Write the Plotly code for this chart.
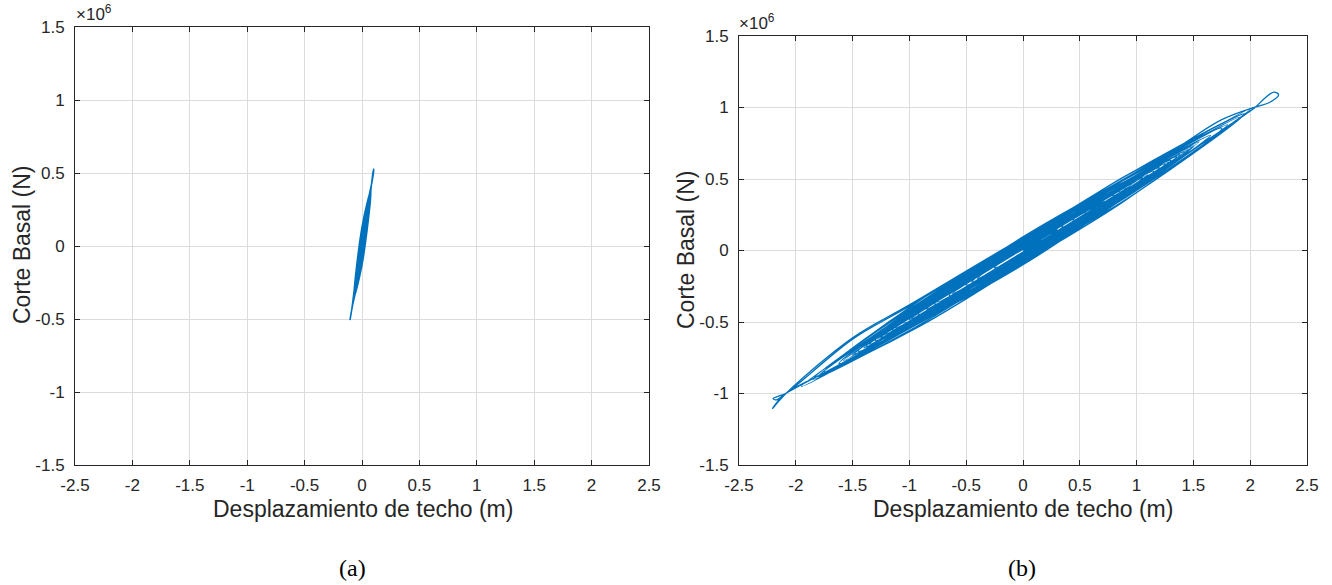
import plotly.graph_objects as go

# ---- data: roof displacement (m) vs base shear (x10^6 N) ----
# panel (a): essentially elastic response, one cycle per row
disp_a = [0.0,
          0.030, 0.0, -0.040, 0.0,
          0.055, 0.0, -0.060, 0.0,
          0.070, 0.0, -0.075, 0.0,
          0.080, 0.0, -0.088, -0.105, -0.090, 0.0,
          0.085, 0.098, 0.103, 0.096, 0.084, 0.0,
          -0.072, 0.0, 0.078, 0.0,
          -0.074, 0.0, 0.076, 0.0,
          -0.070, 0.0, 0.072, 0.0,
          -0.068, 0.0, 0.074, 0.0,
          -0.065, 0.0, 0.068, 0.0,
          -0.066, 0.0, 0.070, 0.0,
          -0.062, 0.0, 0.065, 0.0,
          -0.060, 0.0, 0.062, 0.0,
          -0.058, 0.0, 0.060, 0.0,
          -0.055, 0.0, 0.058, 0.0,
          -0.050, 0.0, 0.052, 0.0,
          -0.045, 0.0, 0.045, 0.0,
          -0.035, 0.0, 0.030, 0.0,
          -0.020, 0.0]
shear_a = [0.0,
           0.150, -0.060, -0.200, 0.070,
           0.275, -0.080, -0.300, 0.090,
           0.350, -0.090, -0.370, 0.100,
           0.400, -0.100, -0.430, -0.507, -0.440, 0.110,
           0.430, 0.490, 0.527, 0.505, 0.430, -0.090,
           -0.360, 0.130, 0.385, -0.130,
           -0.365, 0.050, 0.375, -0.030,
           -0.350, 0.120, 0.360, -0.110,
           -0.335, 0.020, 0.370, -0.060,
           -0.320, 0.100, 0.340, -0.120,
           -0.325, 0.070, 0.350, -0.015,
           -0.305, 0.125, 0.325, -0.090,
           -0.295, 0.040, 0.310, -0.100,
           -0.290, 0.090, 0.300, -0.045,
           -0.270, 0.110, 0.290, -0.070,
           -0.245, 0.030, 0.260, -0.080,
           -0.220, 0.080, 0.225, -0.060,
           -0.170, 0.060, 0.150, -0.040,
           -0.100, 0.030]

# panel (b): nonlinear response, one cycle per row
disp_b = [0.0,
          0.30, 0.0, -0.45, 0.0,
          0.62, 0.0, -0.85, 0.0,
          1.05, 0.0, -1.25, 0.0,
          1.48, 0.0, -1.62, 0.0,
          1.80, 0.0, -1.95, 0.0,
          1.30, 1.75, 2.05, 2.17, 2.25, 2.21, 2.12, 2.05, 1.75, 1.20, 0.0,
          -1.50, -2.09, -2.205, -2.08, -1.50, -1.00, 0.0,
          2.00, 0.0, -1.55, -2.09, -2.17, -2.20, -2.15, -2.09, -1.50, -1.00, 0.0,
          1.00, 1.95, 1.00, 0.0, -1.00, -1.85, -1.00, 0.0,
          1.00, 1.90, 1.00, 0.0, -1.00, -1.80, -1.00, 0.0,
          0.90, 1.75, 0.90, 0.0, -0.90, -1.75, -0.90, 0.0,
          0.85, 1.65, 0.85, 0.0, -0.85, -1.62, -0.85, 0.0,
          1.55, 0.0, -1.58, 0.0,
          1.65, 0.0, -1.50, 0.0,
          1.45, 0.0, -1.48, 0.0,
          1.50, 0.0, -1.40, 0.0,
          1.38, 0.0, -1.45, 0.0,
          1.42, 0.0, -1.35, 0.0,
          1.30, 0.0, -1.38, 0.0,
          1.35, 0.0, -1.30, 0.0,
          1.25, 0.0, -1.28, 0.0,
          1.28, 0.0, -1.20, 0.0,
          1.20, 0.0, -1.22, 0.0,
          1.15, 0.0, -1.12, 0.0,
          1.10, 0.0, -1.15, 0.0,
          1.05, 0.0, -1.05, 0.0,
          1.00, 0.0, -1.00, 0.0,
          0.95, 0.0, -0.98, 0.0,
          0.90, 0.0, -0.92, 0.0,
          0.85, 0.0, -0.85, 0.0,
          0.80, 0.0, -0.78, 0.0,
          0.72, 0.0, -0.75, 0.0,
          0.68, 0.0, -0.65, 0.0,
          0.60, 0.0, -0.62, 0.0,
          0.55, 0.0, -0.50, 0.0,
          0.45, 0.0, -0.40, 0.0,
          0.35, 0.0, -0.25, 0.0,
          0.15, 0.0]
shear_b = [0.0,
           0.145, -0.030, -0.220, 0.040,
           0.300, -0.045, -0.410, 0.055,
           0.510, -0.060, -0.610, 0.070,
           0.720, -0.075, -0.790, 0.080,
           0.880, -0.070, -0.950, 0.085,
           0.690, 0.915, 1.005, 1.035, 1.090, 1.108, 1.060, 1.005, 0.840, 0.550, -0.070,
           -0.760, -1.000, -1.105, -0.995, -0.610, -0.380, 0.090,
           0.990, -0.070, -0.770, -1.000, -1.045, -1.035, -1.018, -1.000, -0.620, -0.390, 0.085,
           0.565, 0.955, 0.405, -0.075, -0.560, -0.900, -0.410, 0.080,
           0.545, 0.930, 0.420, -0.060, -0.545, -0.880, -0.425, 0.065,
           0.520, 0.855, 0.350, -0.090, -0.525, -0.850, -0.345, 0.090,
           0.475, 0.805, 0.350, -0.070, -0.480, -0.790, -0.340, 0.075,
           0.760, -0.030, -0.770, 0.060,
           0.805, -0.095, -0.730, 0.040,
           0.705, -0.045, -0.720, 0.095,
           0.730, -0.080, -0.680, 0.025,
           0.670, -0.100, -0.705, 0.070,
           0.690, -0.020, -0.655, 0.090,
           0.630, -0.065, -0.670, 0.045,
           0.655, -0.090, -0.630, 0.080,
           0.605, -0.040, -0.620, 0.015,
           0.620, -0.085, -0.580, 0.085,
           0.580, -0.020, -0.590, 0.050,
           0.555, -0.070, -0.540, 0.010,
           0.530, -0.040, -0.555, 0.075,
           0.505, -0.085, -0.505, 0.035,
           0.485, -0.010, -0.485, 0.060,
           0.460, -0.055, -0.475, 0.020,
           0.435, -0.080, -0.445, 0.085,
           0.410, -0.030, -0.410, 0.045,
           0.385, -0.065, -0.375, 0.015,
           0.345, -0.015, -0.360, 0.070,
           0.325, -0.075, -0.315, 0.040,
           0.290, -0.040, -0.300, 0.010,
           0.265, -0.060, -0.240, 0.050,
           0.215, -0.020, -0.195, 0.035,
           0.170, -0.035, -0.120, 0.020,
           0.070, -0.010]

# ---- axes ticks ----
x_ticks = [-2.5, -2, -1.5, -1, -0.5, 0, 0.5, 1, 1.5, 2, 2.5]
x_tick_text = ["-2.5", "-2", "-1.5", "-1", "-0.5", "0", "0.5", "1", "1.5", "2", "2.5"]
y_ticks = [-1.5, -1, -0.5, 0, 0.5, 1, 1.5]
y_tick_text = ["-1.5", "-1", "-0.5", "0", "0.5", "1", "1.5"]

LINE_BLUE = "#0072BD"
AX_COLOR = "#262626"
GRID = "#dcdcdc"
SANS = "Liberation Sans, Arial, sans-serif"
TICK_FONT = dict(family=SANS, size=17, color=AX_COLOR)
LABEL_FONT = dict(family=SANS, size=23, color=AX_COLOR)

fig = go.Figure()
fig.add_trace(go.Scatter(x=disp_a, y=shear_a, mode="lines", xaxis="x", yaxis="y",
                         line=dict(color=LINE_BLUE, width=1.6, shape="spline", smoothing=1.0),
                         showlegend=False, hoverinfo="skip"))
fig.add_trace(go.Scatter(x=disp_b, y=shear_b, mode="lines", xaxis="x2", yaxis="y2",
                         line=dict(color=LINE_BLUE, width=1.3, shape="spline", smoothing=1.0),
                         showlegend=False, hoverinfo="skip"))

common_x = dict(range=[-2.5, 2.5], tickvals=x_ticks, ticktext=x_tick_text,
                showgrid=True, gridcolor=GRID, gridwidth=1, zeroline=False,
                showline=True, linecolor=AX_COLOR, linewidth=1, mirror="ticks",
                ticks="inside", ticklen=5, tickcolor=AX_COLOR, tickfont=TICK_FONT,
                ticklabelstandoff=5, automargin=False)
common_y = dict(range=[-1.5, 1.5], tickvals=y_ticks, ticktext=y_tick_text,
                showgrid=True, gridcolor=GRID, gridwidth=1, zeroline=False,
                showline=True, linecolor=AX_COLOR, linewidth=1, mirror="ticks",
                ticks="inside", ticklen=5, tickcolor=AX_COLOR, tickfont=TICK_FONT,
                ticklabelstandoff=6, automargin=False)

W, H = 1332, 585
fig.update_layout(
    width=W, height=H, autosize=False,
    margin=dict(l=0, r=0, t=0, b=0, pad=0, autoexpand=False),
    paper_bgcolor="white", plot_bgcolor="white",
    xaxis=dict(domain=[75 / W, 649 / W], anchor="y", **common_x),
    yaxis=dict(domain=[1 - 465 / H, 1 - 27 / H], anchor="x", **common_y),
    xaxis2=dict(domain=[739 / W, 1307 / W], anchor="y2", **common_x),
    yaxis2=dict(domain=[1 - 465 / H, 1 - 36 / H], anchor="x2", **common_y),
)

def note(text, x, y, font, **kw):
    fig.add_annotation(text=text, xref="paper", yref="paper", x=x / W, y=1 - y / H,
                       showarrow=False, font=font, **kw)

# axis titles
for cx in (363, 1023):
    note("Desplazamiento de techo (m)", cx, 509, LABEL_FONT, xanchor="center", yanchor="middle")
for cx, cy in ((22, 245), (686, 250)):
    note("Corte Basal (N)", cx, cy, LABEL_FONT, xanchor="center", yanchor="middle", textangle=-90)

# exponent label above each y axis
for x0, y0 in ((74, 26), (737, 35)):
    note("×10<sup>6</sup>", x0, y0, dict(family=SANS, size=17, color=AX_COLOR),
         xanchor="left", yanchor="bottom")

# panel letters
for label, cx in (("(a)", 352), ("(b)", 1022)):
    note(label, cx, 568, dict(family="Liberation Serif, Times New Roman, serif", size=24, color="black"),
         xanchor="center", yanchor="middle")

fig.write_html("out.html")
